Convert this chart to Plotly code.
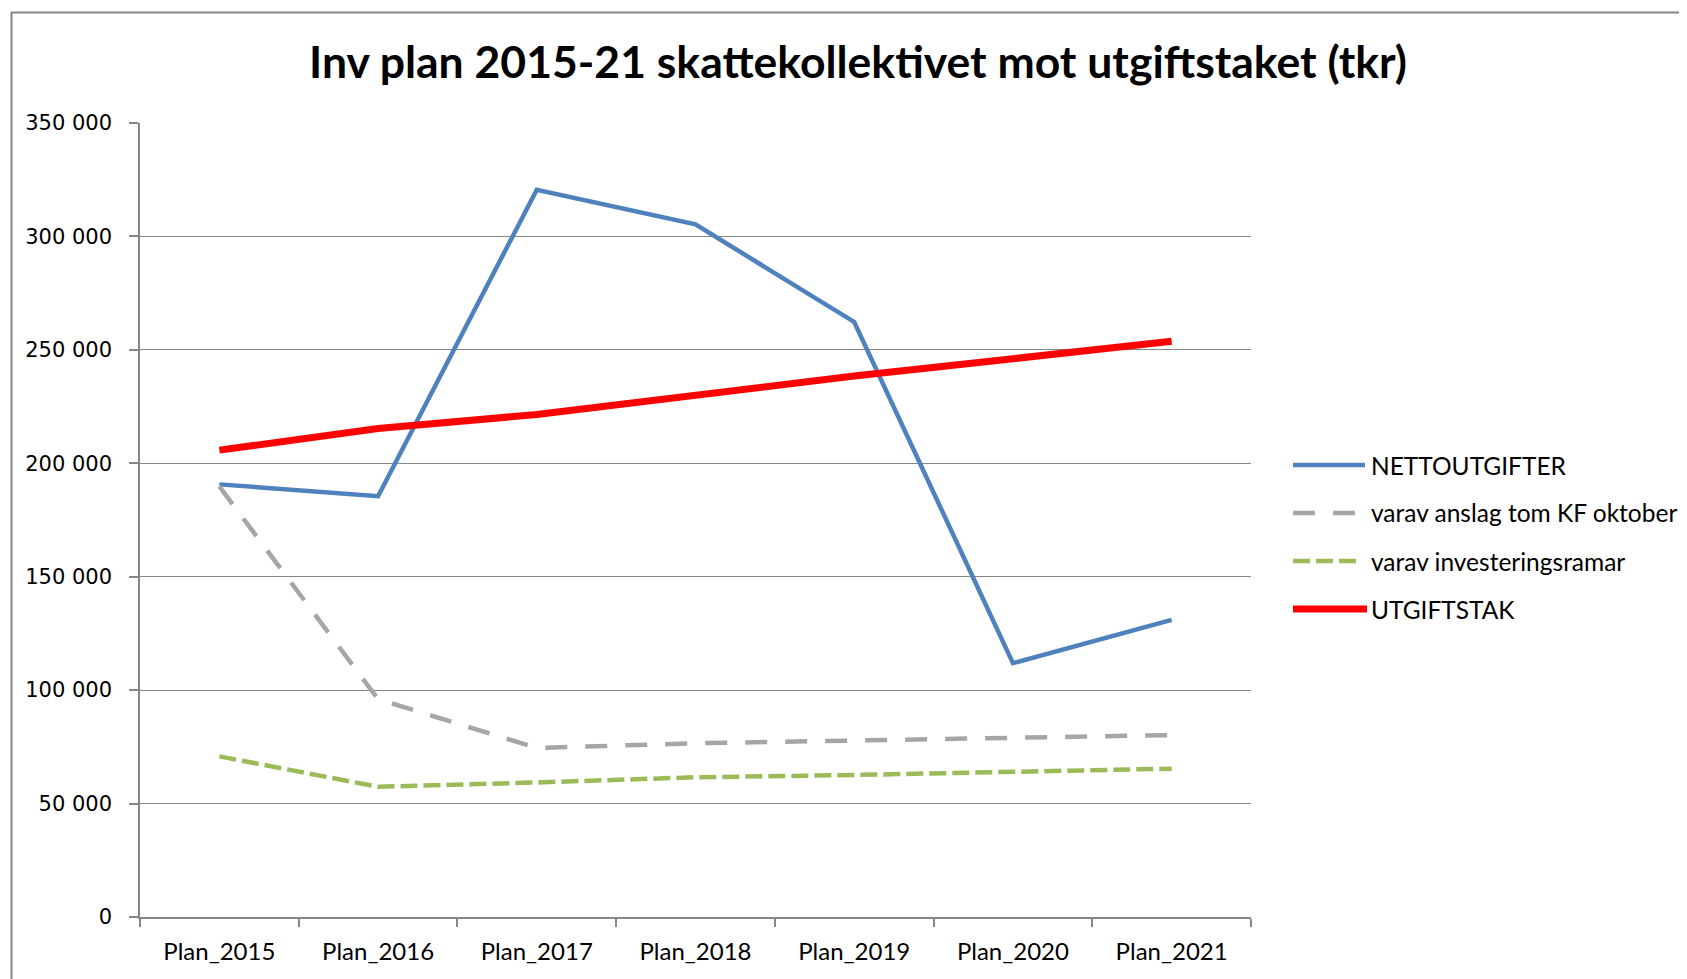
import plotly.graph_objects as go

categories = ["Plan_2015", "Plan_2016", "Plan_2017", "Plan_2018", "Plan_2019", "Plan_2020", "Plan_2021"]
nettoutgifter = [190700, 185500, 320600, 305300, 262300, 111900, 131000]
anslag_kf_oktober = [189800, 96000, 74500, 76600, 77800, 78800, 80200]
investeringsramar = [70800, 57400, 59300, 61600, 62600, 64000, 65400]
utgiftstak = [205800, 215300, 221500, 229900, 238500, 246100, 253800]

series_names = ["NETTOUTGIFTER", "varav anslag tom KF oktober", "varav investeringsramar", "UTGIFTSTAK"]
series_values = [nettoutgifter, anslag_kf_oktober, investeringsramar, utgiftstak]
series_styles = [
    dict(color="#4F81BD", width=4.5),
    dict(color="#A6A6A6", width=4.5, dash="22px,18px"),
    dict(color="#9BBB59", width=4.5, dash="17px,6px"),
    dict(color="#FF0000", width=7),
]

# page body has an 8px margin; figure coordinates = screen - 8
W, H = 1679, 971
L, R, T, B = 132, 1243, 115, 909

fig = go.Figure()
for name, vals, style in zip(series_names, series_values, series_styles):
    fig.add_trace(go.Scatter(x=categories, y=vals, name=name, mode="lines", line=style,
                             showlegend=False))

pw, ph = R - L, B - T
def px(X):
    return (X - L) / pw
def py(Y):
    return (B - Y) / ph

# chart border
fig.add_shape(type="rect", xref="paper", yref="paper",
              x0=px(3.5), x1=px(1700), y0=py(995), y1=py(4.5),
              line=dict(color="#868686", width=2), fillcolor="rgba(0,0,0,0)", layer="below")

# legend (drawn manually for long Excel-style key lines)
legend_rows = [457, 505, 553, 601]
legend_ends = [1357, 1349, 1349, 1359]
for name, style, yrow, xend in zip(series_names, series_styles, legend_rows, legend_ends):
    fig.add_shape(type="line", xref="paper", yref="paper",
                  x0=px(1285), x1=px(xend), y0=py(yrow), y1=py(yrow),
                  line=dict(color=style["color"], width=style["width"], dash=style.get("dash", "solid")))
    fig.add_annotation(xref="paper", yref="paper", x=px(1361), y=py(yrow),
                       xanchor="left", yanchor="middle", showarrow=False, text=name,
                       font=dict(family="Lato", size=24.5, color="black"))

fig.update_layout(
    width=W, height=H,
    margin=dict(l=L, r=W - R, t=T, b=H - B, pad=0),
    paper_bgcolor="white", plot_bgcolor="white",
    separators=", ",
    title=dict(text="<b>Inv plan 2015-21 skattekollektivet mot utgiftstaket (tkr)</b>",
               x=850 / W, xanchor="center", xref="container",
               y=1 - 54 / H, yanchor="middle", yref="container",
               font=dict(family="Lato", size=44.5, color="black")),
    showlegend=False,
)
fig.update_xaxes(
    type="category", showgrid=False, showline=True, linecolor="#868686", linewidth=1.5,
    ticks="outside", tickson="boundaries", ticklen=8, tickcolor="#868686", tickwidth=1.5,
    tickfont=dict(family="Lato", size=24, color="black"), ticklabelstandoff=12,
    range=[-0.5, 6.5],
)
fig.update_yaxes(
    range=[0, 350000], dtick=50000, tickformat=",d",
    showgrid=True, gridcolor="#868686", gridwidth=1.2,
    showline=True, linecolor="#868686", linewidth=1.5,
    ticks="outside", ticklen=9, tickcolor="#868686", tickwidth=1.5,
    tickfont=dict(family="DejaVu Sans", size=21, color="black"), ticklabelstandoff=13,
    zeroline=False,
)

fig.write_html("out.html")
